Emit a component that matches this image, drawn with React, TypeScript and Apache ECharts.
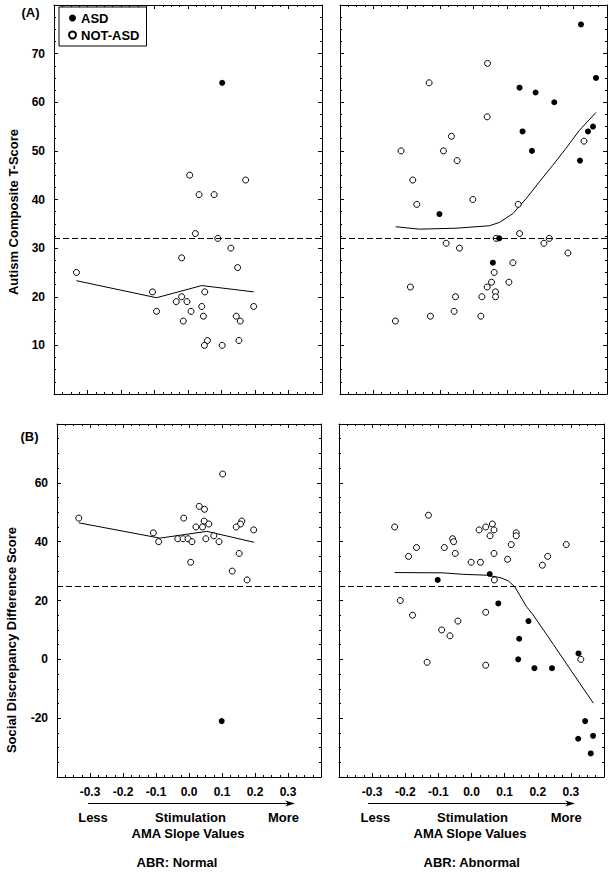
import React, { useEffect, useRef } from "react";
import * as echarts from "echarts";

type P = [number, number];

// ---------- Data ----------
// Panel A (Autism Composite T-Score), ABR: Normal
const aNormalASD: P[] = [[0.102, 64]];
const aNormalNotASD: P[] = [
  [-0.333, 25], [0.005, 45], [0.172, 44], [0.033, 41], [0.078, 41], [0.022, 33],
  [0.089, 32], [0.128, 30], [-0.019, 28], [0.148, 26], [-0.106, 21], [0.05, 21],
  [-0.019, 20], [-0.035, 19], [-0.003, 19], [-0.094, 17], [0.009, 17], [0.041, 18],
  [0.196, 18], [-0.014, 15], [0.046, 16], [0.144, 16], [0.156, 15], [0.058, 11],
  [0.049, 10], [0.102, 10], [0.152, 11],
];
const aNormalFit: P[] = [[-0.333, 23.3], [-0.094, 19.8], [0.041, 22.3], [0.196, 21.0]];

// Panel A, ABR: Abnormal
const aAbnormalASD: P[] = [
  [0.322, 76], [0.367, 65], [0.138, 63], [0.186, 62], [0.242, 60], [0.147, 54],
  [0.358, 55], [0.343, 54], [0.175, 50], [0.319, 48], [-0.102, 37], [0.077, 32], [0.058, 27],
];
const aAbnormalNotASD: P[] = [
  [0.042, 68], [-0.133, 64], [0.041, 57], [-0.066, 53], [-0.217, 50], [-0.09, 50],
  [-0.049, 48], [0.331, 52], [-0.182, 44], [-0.002, 40], [-0.17, 39], [0.134, 39],
  [0.068, 32], [0.138, 33], [-0.082, 31], [-0.042, 30], [0.211, 31], [0.227, 32],
  [0.283, 29], [0.118, 27], [0.062, 25], [0.054, 23], [0.106, 23], [0.041, 22],
  [-0.189, 22], [0.066, 21], [0.066, 20], [0.025, 20], [-0.054, 20], [-0.058, 17],
  [-0.129, 16], [0.022, 16], [-0.234, 15],
];
const aAbnormalFit: P[] = [
  [-0.233, 34.4], [-0.162, 33.9], [-0.052, 34.1], [0.048, 34.6], [0.078, 35.3],
  [0.118, 37.1], [0.158, 40.2], [0.197, 43.6], [0.237, 47.0], [0.277, 50.5],
  [0.317, 54.2], [0.367, 57.9],
];

// Panel B (Social Discrepancy Difference Score), ABR: Normal
const bNormalASD: P[] = [[0.099, -21]];
const bNormalNotASD: P[] = [
  [-0.334, 48], [0.102, 63], [0.031, 52], [0.047, 51], [-0.016, 48], [0.046, 47],
  [0.06, 46], [0.021, 45], [0.041, 45], [0.16, 47], [0.156, 46], [0.143, 45],
  [0.196, 44], [-0.108, 43], [-0.092, 40], [-0.034, 41], [-0.018, 41], [-0.003, 41],
  [0.009, 40], [0.051, 41], [0.075, 42], [0.091, 40], [0.005, 33], [0.152, 36],
  [0.131, 30], [0.176, 27],
];
const bNormalFit: P[] = [[-0.334, 46.4], [-0.088, 41.2], [0.054, 43.5], [0.197, 39.8]];

// Panel B, ABR: Abnormal
const bAbnormalASD: P[] = [
  [-0.102, 27], [0.055, 29], [0.081, 19], [0.172, 13], [0.144, 7], [0.141, 0],
  [0.19, -3], [0.243, -3], [0.323, 2], [0.343, -21], [0.367, -26], [0.322, -27], [0.36, -32],
];
const bAbnormalNotASD: P[] = [
  [-0.232, 45], [-0.13, 49], [-0.166, 38], [-0.19, 35], [-0.082, 38], [-0.057, 41],
  [-0.054, 40], [-0.049, 36], [-0.001, 33], [0.027, 33], [0.023, 44], [0.043, 45],
  [0.063, 46], [0.068, 44], [0.056, 42], [0.068, 36], [0.109, 34], [0.12, 39],
  [0.135, 43], [0.135, 42], [0.214, 32], [0.23, 35], [0.286, 39], [0.069, 27],
  [-0.215, 20], [-0.178, 15], [-0.041, 13], [-0.09, 10], [-0.065, 8], [0.043, 16],
  [-0.134, -1], [0.043, -2], [0.33, 0],
];
const bAbnormalFit: P[] = [
  [-0.232, 29.5], [-0.086, 29.4], [-0.025, 28.9], [0.045, 28.6], [0.086, 27.8],
  [0.111, 26.7], [0.131, 24.6], [0.166, 17.9], [0.186, 15.1], [0.247, 5.1],
  [0.307, -4.9], [0.368, -14.9],
];

const aThreshold = 32;
const bThreshold = 25;

const seriesNames = ["ASD", "NOT-ASD"];
const panelLabels = ["(A)", "(B)"];
const yAxisTitles = ["Autism Composite T-Score", "Social Discrepancy Difference Score"];
const xAxisTitle = "AMA Slope Values";
const stimulationWords = ["Less", "Stimulation", "More"];
const columnTitles = ["ABR: Normal", "ABR: Abnormal"];

const xRange = { min: -0.4, max: 0.4, interval: 0.1 };
const yRangeA = { min: 0, max: 80, interval: 10 };
const yRangeB = { min: -40, max: 80, interval: 20 };

// ---------- Chart ----------
const FONT = '"Liberation Sans", Arial, Helvetica, sans-serif';

const panels = [
  { asd: aNormalASD, not: aNormalNotASD, fit: aNormalFit, thr: aThreshold, yr: yRangeA, xLabels: false, yLabels: true },
  { asd: aAbnormalASD, not: aAbnormalNotASD, fit: aAbnormalFit, thr: aThreshold, yr: yRangeA, xLabels: false, yLabels: false },
  { asd: bNormalASD, not: bNormalNotASD, fit: bNormalFit, thr: bThreshold, yr: yRangeB, xLabels: true, yLabels: true },
  { asd: bAbnormalASD, not: bAbnormalNotASD, fit: bAbnormalFit, thr: bThreshold, yr: yRangeB, xLabels: true, yLabels: false },
];

const gridBoxes = [
  { left: 54, top: 5, width: 268, height: 389 },
  { left: 340, top: 5, width: 267, height: 389 },
  { left: 57, top: 424, width: 264, height: 353 },
  { left: 339, top: 424, width: 265, height: 353 },
];

function buildOption(): any {
  const tickCommon = {
    axisLine: { show: true, onZero: false, lineStyle: { color: "#000", width: 1 } },
    axisTick: { show: true, inside: true, length: 4, lineStyle: { color: "#000", width: 1 } },
    minorTick: { show: true, splitNumber: 4, length: 2, lineStyle: { color: "#000", width: 1 } },
    splitLine: { show: false },
    minorSplitLine: { show: false },
  };
  const labelStyle = { color: "#000", fontFamily: FONT, fontWeight: "bold", fontSize: 12 };

  const xAxis: any[] = [];
  const yAxis: any[] = [];
  const series: any[] = [];

  panels.forEach((p, gi) => {
    const fmtX = (v: number) => {
      const r = Math.round(v * 10) / 10;
      return Math.abs(r) > 0.35 ? "" : r.toFixed(1);
    };
    const fmtY = (v: number) => (v <= p.yr.min || v >= p.yr.max ? "" : String(Math.round(v)));
    xAxis.push({
      type: "value", gridIndex: gi, position: "bottom", ...xRange, ...tickCommon,
      axisLabel: { show: p.xLabels, margin: 9, ...labelStyle, formatter: fmtX, showMinLabel: true, showMaxLabel: true },
    });
    xAxis.push({
      type: "value", gridIndex: gi, position: "top", ...xRange, ...tickCommon,
      axisLabel: { show: false },
    });
    yAxis.push({
      type: "value", gridIndex: gi, position: "left", ...p.yr, ...tickCommon,
      axisLabel: { show: p.yLabels, margin: 9, ...labelStyle, formatter: fmtY },
    });
    yAxis.push({
      type: "value", gridIndex: gi, position: "right", ...p.yr, ...tickCommon,
      axisLabel: { show: false },
    });
    const xi = gi * 2;
    const yi = gi * 2;
    series.push({
      type: "line", name: "fit", xAxisIndex: xi, yAxisIndex: yi, data: p.fit,
      symbol: "none", smooth: false, lineStyle: { color: "#000", width: 1 }, z: 2,
      markLine: {
        silent: true, symbol: "none", label: { show: false },
        lineStyle: { color: "#000", width: 1, type: [6, 3] },
        data: [{ yAxis: p.thr }],
      },
    });
    series.push({
      type: "scatter", name: seriesNames[1], xAxisIndex: xi, yAxisIndex: yi, data: p.not,
      symbol: "circle", symbolSize: 6,
      itemStyle: { color: "#fff", borderColor: "#000", borderWidth: 1, opacity: 1 }, z: 3,
    });
    series.push({
      type: "scatter", name: seriesNames[0], xAxisIndex: xi, yAxisIndex: yi, data: p.asd,
      symbol: "circle", symbolSize: 6,
      itemStyle: { color: "#000", borderWidth: 0, opacity: 1 }, z: 4,
    });
  });

  const bold13 = `bold 13px ${FONT}`;
  const txt = (text: string, x: number, y: number, extra: any = {}) => ({
    type: "text", x, y, ...extra,
    style: { text, font: bold13, fill: "#000", textAlign: "center", textVerticalAlign: "middle" },
  });

  const graphic: any[] = [
    txt(panelLabels[0], 30.5, 12.5),
    txt(panelLabels[1], 29.5, 436.5),
    txt(yAxisTitles[0], 13.5, 212, { rotation: Math.PI / 2 }),
    txt(yAxisTitles[1], 11.5, 640, { rotation: Math.PI / 2 }),
  ];
  const cols = [
    { lineX1: 88, lineX2: 289, tip: 295, less: 93, stim: 190.5, more: 283.5, ama: 188, abr: 177 },
    { lineX1: 368, lineX2: 569, tip: 575, less: 375.3, stim: 472.5, more: 566.3, ama: 470, abr: 471.7 },
  ];
  cols.forEach((c, i) => {
    graphic.push({
      type: "line", shape: { x1: c.lineX1, y1: 803.5, x2: c.lineX2, y2: 803.5 },
      style: { stroke: "#000", lineWidth: 1 },
    });
    graphic.push({
      type: "polygon",
      shape: { points: [[c.tip, 803.5], [c.tip - 10, 800.5], [c.tip - 7, 803.5], [c.tip - 10, 806.5]] },
      style: { fill: "#000" },
    });
    graphic.push(txt(stimulationWords[0], c.less, 817));
    graphic.push(txt(stimulationWords[1], c.stim, 817));
    graphic.push(txt(stimulationWords[2], c.more, 817));
    graphic.push(txt(xAxisTitle, c.ama, 833));
    graphic.push(txt(columnTitles[i], c.abr, 862));
  });

  return {
    animation: false,
    backgroundColor: "#fff",
    grid: gridBoxes.map((g) => ({ ...g, containLabel: false })),
    xAxis,
    yAxis,
    series,
    legend: {
      data: seriesNames,
      orient: "vertical",
      left: 59,
      top: 7,
      padding: [4, 7, 4, 9],
      itemGap: 3,
      itemWidth: 7,
      itemHeight: 7,
      borderColor: "#000",
      borderWidth: 1,
      selectedMode: false,
      backgroundColor: "#fff",
      textStyle: { color: "#000", fontFamily: FONT, fontWeight: "bold", fontSize: 13, lineHeight: 14 },
    },
    graphic,
  };
}

export default function App() {
  const ref = useRef<HTMLDivElement>(null);
  useEffect(() => {
    if (!ref.current) return;
    const chart = echarts.init(ref.current, undefined, { renderer: "svg" });
    chart.setOption(buildOption());
    return () => chart.dispose();
  }, []);
  return (
    <div
      ref={ref}
      style={{ position: "absolute", left: 0, top: 0, width: 614, height: 872, background: "#fff" }}
    />
  );
}
